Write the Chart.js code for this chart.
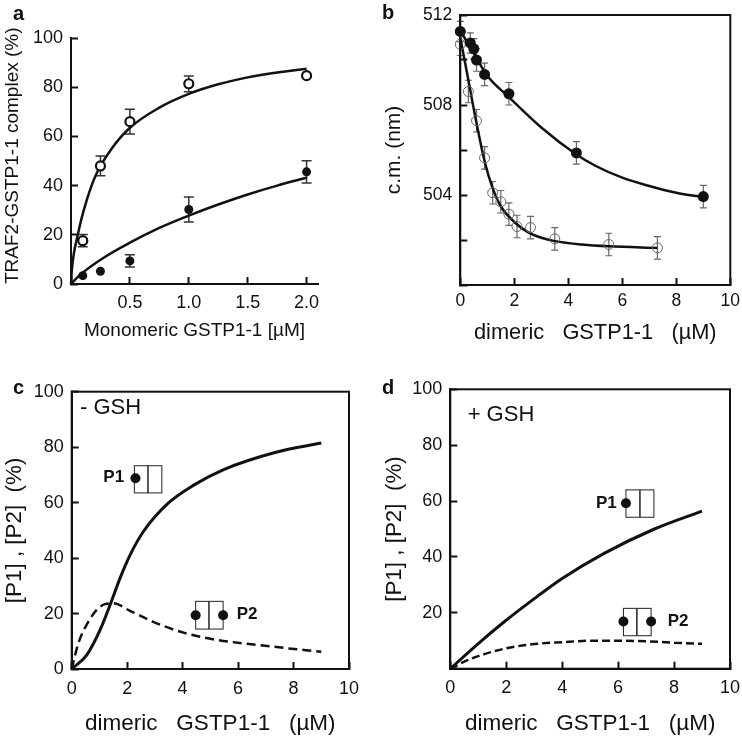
<!DOCTYPE html>
<html>
<head>
<meta charset="utf-8">
<script src="https://cdn.jsdelivr.net/npm/chart.js@4/dist/chart.umd.min.js"></script>
<style>
  html, body { margin: 0; padding: 0; background: #fff; }
  #page { position: relative; width: 742px; height: 737px; overflow: hidden; }
  canvas { position: absolute; }
  .letter { position: absolute; font: bold 20px "Liberation Sans", sans-serif; color: #111; line-height: 20px; }
</style>
</head>
<body>
<div id="page">
  <canvas id="panelA"></canvas>
  <canvas id="panelB"></canvas>
  <canvas id="panelC"></canvas>
  <canvas id="panelD"></canvas>
  <div class="letter" style="left:13px;top:3px">a</div>
  <div class="letter" style="left:382px;top:2px">b</div>
  <div class="letter" style="left:13px;top:377px">c</div>
  <div class="letter" style="left:382px;top:377px">d</div>
</div>
<script>
// panel a
var aOpenX = [0.1, 0.25, 0.5, 1, 2];
var aOpenY = [17.6, 48, 66, 81.4, 84.7];
var aOpenErr = [2.5, 4, 5, 3.2, 0];
var aFilledX = [0.1, 0.25, 0.5, 1, 2];
var aFilledY = [3.4, 5.2, 9.4, 30.3, 45.6];
var aFilledErr = [0, 0, 2.5, 5.1, 4.5];
var aCurve1X = [0, 0.006, 0.06, 0.133, 0.218, 0.345, 0.5, 0.75, 1, 1.25, 1.5, 1.75, 2];
var aCurve1Y = [0, 5, 20.5, 34, 45, 55, 63.5, 71.7, 77.3, 81.2, 84, 86, 87.5];
var aCurve2X = [0, 0.076, 0.274, 0.5, 0.75, 1, 1.25, 1.5, 1.75, 2];
var aCurve2Y = [0, 3.7, 10.6, 16.8, 22.8, 27.8, 32.3, 36.4, 40, 43.2];

// panel b
var bFilledX = [0, 0.37, 0.5, 0.6, 0.9, 1.8, 4.3, 9];
var bFilledY = [511.27, 510.76, 510.5, 510, 509.36, 508.5, 505.87, 503.93];
var bFilledErr = [0.45, 0.45, 0.45, 0.5, 0.5, 0.5, 0.5, 0.5];
var bOpenX = [0, 0.3, 0.6, 0.9, 1.2, 1.5, 1.8, 2.1, 2.6, 3.5, 5.5, 7.3];
var bOpenY = [510.7, 508.6, 507.3, 505.65, 504.1, 503.7, 503.15, 502.6, 502.55, 502.05, 501.8, 501.65];
var bOpenErr = [0.5, 0.5, 0.5, 0.5, 0.5, 0.5, 0.5, 0.5, 0.5, 0.5, 0.5, 0.5];
var bCurve1X = [0, 0.5, 1, 1.8, 3, 4.3, 5, 6, 7, 8, 9];
var bCurve1Y = [511.3, 510.3, 509.3, 508.35, 507, 505.8, 505.3, 504.77, 504.4, 504.1, 503.9];
var bCurve2X = [0, 0.3, 0.6, 0.9, 1.2, 1.5, 2, 2.5, 3, 3.5, 4.5, 5.5, 7.3];
var bCurve2Y = [511, 509.1, 507.2, 505.5, 504.3, 503.5, 502.8, 502.35, 502.1, 501.95, 501.8, 501.72, 501.65];
var bYLabels = [504, 508, 512];

// panel c
var cP1X = [0, 0.54, 1.02, 1.38, 1.74, 2.1, 2.58, 3.48, 4.4, 5.5, 7.3, 9];
var cP1Y = [0, 5, 14, 23, 32.7, 41, 49.5, 59.8, 66.3, 72, 78, 81.5];
var cP2X = [0, 0.24, 0.6, 0.9, 1.2, 1.5, 2.1, 2.94, 4.03, 5, 7.3, 9];
var cP2Y = [0, 9.3, 17, 21.3, 23.4, 23.7, 21, 17, 13.1, 10.9, 8, 6.2];
var cDotsX = [2.3, 4.47, 5.46];
var cDotsY = [68.8, 19.4, 19.4];

// panel d
var dP1X = [0, 1, 1.93, 3.1, 4, 5.5, 7.3, 9];
var dP1Y = [0, 9, 16.8, 25.8, 32.3, 41.3, 50, 56.4];
var dP2X = [0, 0.5, 1, 2, 3, 4, 5, 6, 7, 8, 9];
var dP2Y = [0, 2.5, 4.5, 7.3, 8.8, 9.5, 10, 10, 9.8, 9.3, 8.9];
var dDotsX = [6.28, 6.19, 7.18];
var dDotsY = [59.2, 16.9, 16.9];

var dimericTitle = "dimeric   GSTP1-1   (\u00b5M)";
var fontName = '"Liberation Sans", Arial, sans-serif';
var ink = "#111";

function xy(xs, ys) {
  return xs.map(function (x, i) { return { x: x, y: ys[i] }; });
}

function curve(xs, ys, width, dash) {
  return {
    data: xy(xs, ys), showLine: true, pointRadius: 0, borderColor: ink, borderWidth: width,
    borderDash: dash || [], cubicInterpolationMode: "monotone", order: 2, clip: false
  };
}

function dots(xs, ys, radius, fill, stroke, strokeWidth) {
  return {
    data: xy(xs, ys), showLine: false, pointRadius: radius, pointBackgroundColor: fill,
    pointBorderColor: stroke, pointBorderWidth: strokeWidth, order: 1, clip: false
  };
}

// error bars, small frames, borders and inner labels
function extrasPlugin(p) {
  return {
    id: "extras",
    beforeDatasetsDraw: function (chart) {
      var c = chart.ctx, sx = chart.scales.x, sy = chart.scales.y;
      c.save();
      (p.errs || []).forEach(function (e) {
        c.strokeStyle = e.color;
        c.lineWidth = e.width;
        e.xs.forEach(function (v, i) {
          if (!e.errs[i]) return;
          var px = sx.getPixelForValue(v);
          var top = sy.getPixelForValue(e.ys[i] + e.errs[i]);
          var bot = sy.getPixelForValue(e.ys[i] - e.errs[i]);
          c.beginPath();
          c.moveTo(px, top); c.lineTo(px, bot);
          c.moveTo(px - e.cap, top); c.lineTo(px + e.cap, top);
          c.moveTo(px - e.cap, bot); c.lineTo(px + e.cap, bot);
          c.stroke();
        });
      });
      c.strokeStyle = "#222";
      c.lineWidth = 1;
      (p.frames || []).forEach(function (f) {
        var x0 = sx.getPixelForValue(f.x0), x1 = sx.getPixelForValue(f.x1), xm = sx.getPixelForValue(f.xm);
        var y0 = sy.getPixelForValue(f.y0), y1 = sy.getPixelForValue(f.y1);
        c.strokeRect(x0, y1, x1 - x0, y0 - y1);
        c.beginPath();
        c.lineWidth = 1.5;
        c.moveTo(xm, y0); c.lineTo(xm, y1);
        c.stroke();
        c.lineWidth = 1;
      });
      c.restore();
    },
    afterDraw: function (chart) {
      var c = chart.ctx, a = chart.chartArea, sx = chart.scales.x, sy = chart.scales.y;
      c.save();
      if (p.box) {
        c.strokeStyle = ink;
        c.lineWidth = 2;
        c.strokeRect(a.left, a.top, a.right - a.left, a.bottom - a.top);
      }
      c.fillStyle = ink;
      c.textBaseline = "middle";
      (p.texts || []).forEach(function (t) {
        c.font = t.font;
        c.textAlign = t.align;
        c.fillText(t.text, sx.getPixelForValue(t.x), sy.getPixelForValue(t.y));
      });
      c.restore();
    }
  };
}

function makePanel(id, p) {
  var el = document.getElementById(id);
  el.width = p.rect.w;
  el.height = p.rect.h;
  el.style.left = p.rect.x + "px";
  el.style.top = p.rect.y + "px";
  el.style.width = p.rect.w + "px";
  el.style.height = p.rect.h + "px";

  var tickFont = { family: fontName, size: p.tickSize };
  var xHeight = p.xTitleBottom - p.area.bottom;
  var yWidth = p.area.left - p.rect.x;

  function clearPadding(scale) {
    scale.paddingLeft = scale.paddingRight = scale.paddingTop = scale.paddingBottom = 0;
  }

  return new Chart(el, {
    type: "scatter",
    data: { datasets: p.datasets },
    plugins: [extrasPlugin(p)],
    options: {
      responsive: false,
      animation: false,
      devicePixelRatio: 1,
      layout: {
        padding: {
          left: 0,
          top: p.area.top - p.rect.y,
          right: p.rect.x + p.rect.w - p.area.right,
          bottom: p.rect.y + p.rect.h - p.xTitleBottom
        }
      },
      plugins: { legend: { display: false }, tooltip: { enabled: false }, title: { display: false } },
      scales: {
        x: {
          type: "linear", min: p.xMin, max: p.xMax,
          afterFit: function (s) { s.height = xHeight; clearPadding(s); },
          border: { color: ink, width: 2 },
          grid: { drawOnChartArea: false, tickLength: -7, tickWidth: 2, tickColor: ink },
          ticks: {
            stepSize: p.xStep, font: tickFont, color: ink, autoSkip: false, maxRotation: 0,
            includeBounds: false, padding: p.xPad,
            callback: p.xLabel
          },
          title: {
            display: true, text: p.xTitle, color: ink, padding: 0,
            font: { family: fontName, size: p.xTitleSize }
          }
        },
        y: {
          type: "linear", min: p.yMin, max: p.yMax,
          afterFit: function (s) { s.width = yWidth; clearPadding(s); },
          border: { color: ink, width: 2 },
          grid: { drawOnChartArea: false, tickLength: -7, tickWidth: 2, tickColor: ink },
          ticks: {
            stepSize: p.yStep, font: tickFont, color: ink, autoSkip: false, padding: p.yPad,
            callback: p.yLabel
          },
          title: {
            display: true, text: p.yTitle, color: ink, padding: 0,
            font: { family: fontName, size: p.yTitleSize }
          }
        }
      }
    }
  });
}

function plain(v) { return String(v); }
function hideZero(v) { return v === 0 ? "" : String(v); }
function oneDecimal(v) { return v === 0 ? "" : v.toFixed(1); }
function bLabel(v) { return bYLabels.indexOf(v) >= 0 ? String(v) : ""; }

var boldFont = "bold 17px " + fontName;
var noteFont = "22px " + fontName;

makePanel("panelA", {
  rect: { x: 1, y: 0, w: 370, h: 360 },
  area: { left: 71, top: 38, right: 318, bottom: 284 },
  xTitleBottom: 342, tickSize: 18, xPad: 15, yPad: 15, xMin: 0, xMax: 2.097, xStep: 0.5,
  yMin: 0, yMax: 100, yStep: 20, xLabel: oneDecimal, yLabel: plain,
  xTitle: "Monomeric GSTP1-1 [\u00b5M]", yTitle: "  TRAF2-GSTP1-1 complex (%)", xTitleSize: 19, yTitleSize: 19,
  errs: [
    { xs: aOpenX, ys: aOpenY, errs: aOpenErr, color: "#333", width: 1.5, cap: 5 },
    { xs: aFilledX, ys: aFilledY, errs: aFilledErr, color: "#333", width: 1.5, cap: 5 }
  ],
  datasets: [
    dots(aOpenX, aOpenY, 4.5, "#fff", ink, 2.2),
    dots(aFilledX, aFilledY, 4.5, ink, ink, 0),
    curve(aCurve1X, aCurve1Y, 2.5),
    curve(aCurve2X, aCurve2Y, 2.5)
  ]
});

makePanel("panelB", {
  rect: { x: 382, y: 0, w: 360, h: 360 },
  area: { left: 460.3, top: 15, right: 730.3, bottom: 285 },
  xTitleBottom: 346, tickSize: 17.5, xPad: 13, yPad: 15, xMin: 0, xMax: 10, xStep: 2,
  yMin: 500, yMax: 512, yStep: 2, xLabel: plain, yLabel: bLabel, box: true,
  xTitle: dimericTitle, yTitle: "c.m. (nm)", xTitleSize: 21.8, yTitleSize: 21,
  errs: [
    { xs: bOpenX, ys: bOpenY, errs: bOpenErr, color: "#666", width: 1.2, cap: 3.5 },
    { xs: bFilledX, ys: bFilledY, errs: bFilledErr, color: "#666", width: 1.2, cap: 3.5 }
  ],
  datasets: [
    dots(bFilledX, bFilledY, 5.5, ink, ink, 0),
    dots(bOpenX, bOpenY, 5, "transparent", "#666", 1),
    curve(bCurve1X, bCurve1Y, 2.5),
    curve(bCurve2X, bCurve2Y, 2.5)
  ]
});

makePanel("panelC", {
  rect: { x: 1, y: 370, w: 370, h: 367 },
  area: { left: 71.7, top: 391.7, right: 349, bottom: 669 },
  xTitleBottom: 737, tickSize: 18, xPad: 16, yPad: 15, xMin: 0, xMax: 10, xStep: 2,
  yMin: 0, yMax: 100, yStep: 20, xLabel: plain, yLabel: plain, box: true,
  xTitle: dimericTitle, yTitle: "[P1] , [P2]  (%)", xTitleSize: 22.5, yTitleSize: 22.4,
  frames: [
    { x0: 2.26, x1: 3.25, xm: 2.75, y0: 63.5, y1: 73.3 },
    { x0: 4.47, x1: 5.46, xm: 4.95, y0: 14.4, y1: 24.4 }
  ],
  texts: [
    { text: "- GSH", x: 0.3, y: 94, font: noteFont, align: "left" },
    { text: "P1", x: 1.89, y: 69, font: boldFont, align: "right" },
    { text: "P2", x: 5.95, y: 19.6, font: boldFont, align: "left" }
  ],
  datasets: [
    dots(cDotsX, cDotsY, 5, ink, ink, 0),
    curve(cP1X, cP1Y, 3),
    curve(cP2X, cP2Y, 2.5, [9, 5])
  ]
});

makePanel("panelD", {
  rect: { x: 381, y: 370, w: 361, h: 367 },
  area: { left: 450.3, top: 389.3, right: 730, bottom: 668.7 },
  xTitleBottom: 737, tickSize: 18, xPad: 16, yPad: 15, xMin: 0, xMax: 10, xStep: 2,
  yMin: 0, yMax: 100, yStep: 20, xLabel: plain, yLabel: hideZero, box: true,
  xTitle: dimericTitle, yTitle: "[P1] , [P2]  (%)", xTitleSize: 22.5, yTitleSize: 22.4,
  frames: [
    { x0: 6.28, x1: 7.28, xm: 6.78, y0: 54.2, y1: 64 },
    { x0: 6.19, x1: 7.18, xm: 6.67, y0: 11.8, y1: 21.6 }
  ],
  texts: [
    { text: "+ GSH", x: 0.62, y: 90.8, font: noteFont, align: "left" },
    { text: "P1", x: 5.95, y: 59.2, font: boldFont, align: "right" },
    { text: "P2", x: 7.77, y: 17, font: boldFont, align: "left" }
  ],
  datasets: [
    dots(dDotsX, dDotsY, 5, ink, ink, 0),
    curve(dP1X, dP1Y, 3),
    curve(dP2X, dP2Y, 2.5, [8, 4])
  ]
});
</script>
</body>
</html>
